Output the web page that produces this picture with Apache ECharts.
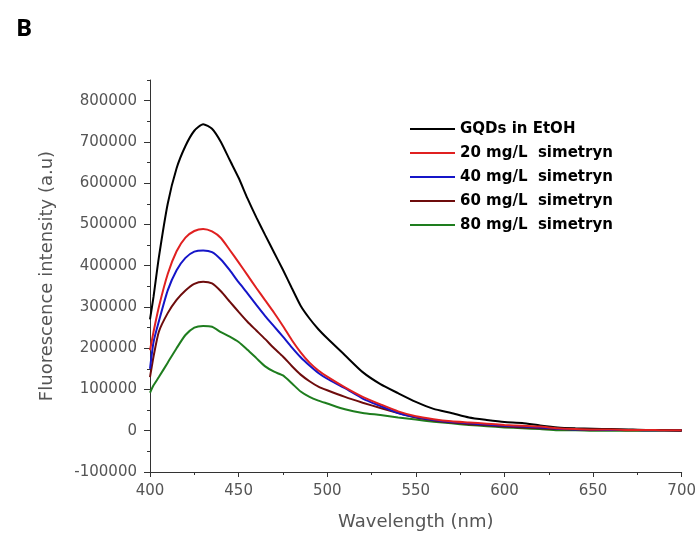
<!DOCTYPE html>
<html>
<head>
<meta charset="utf-8">
<script src="https://cdn.jsdelivr.net/npm/echarts@6/dist/echarts.min.js"></script>
<style>
html,body{margin:0;padding:0;background:#fff;}
#c{width:699px;height:541px;}
</style>
</head>
<body>
<div id="c"></div>
<script>
var wavelengths = [400,402,405,410,415,420,425,430,435,440,445,450,455,460,465,470,475,480,485,490,495,500,510,520,530,540,550,560,570,580,590,600,610,620,630,640,650,660,670,680,690,700];
var gqdEtOH = [270000,325000,420000,550000,636000,690000,727000,743000,732000,700000,656000,613000,563000,517000,474000,432000,390000,346000,303000,272000,246000,224000,183000,142000,113000,91000,70000,53000,43000,32000,26000,21000,19000,13000,8000,6000,5000,4000,3000,2000,2000,1000];
var sim20 = [195000,240000,300000,380000,435000,468000,484000,489000,483000,467000,438000,408000,377000,346000,316000,286000,254000,220000,190000,165000,146000,131000,105000,82000,64000,47000,35000,28000,23000,20000,17000,14000,12000,10000,6000,4000,3000,3000,2000,2000,1000,1000];
var sim40 = [150000,215000,265000,340000,389000,419000,434000,437000,433000,415000,389000,360000,333000,305000,278000,253000,228000,202000,178000,158000,140000,126000,103000,78000,60000,43000,33000,26000,21000,18000,15000,12000,10000,8000,5000,3000,3000,2000,2000,1000,1000,1000];
var sim60 = [130000,180000,240000,285000,317000,340000,356000,361000,357000,338000,313000,288000,264000,243000,222000,200000,180000,157000,136000,120000,107000,98000,82000,68000,55000,43000,32000,25000,20000,16000,13000,10000,8000,6000,4000,3000,2000,2000,1000,1000,1000,0];
var sim80 = [92000,110000,130000,165000,200000,232000,250000,254000,252000,239000,228000,215000,196000,176000,156000,143000,134000,115000,95000,82000,73000,66000,52000,43000,38000,32000,27000,22000,18000,14000,11000,8000,6000,4000,1000,1000,0,0,0,0,0,0];
var seriesNames = ['GQDs in EtOH','20 mg/L  simetryn','40 mg/L  simetryn','60 mg/L  simetryn','80 mg/L  simetryn'];
var yTicks = [-100000,0,100000,200000,300000,400000,500000,600000,700000,800000];

function pairs(vals){ return wavelengths.map(function(w,i){ return [w, vals[i]]; }); }

var chart = echarts.init(document.getElementById('c'), null, {renderer:'canvas'});
var axisColor = '#333';
var labelFont = {fontFamily:'DejaVu Sans', fontSize:15, color:'#555'};
function line(name, data, color, z){
  return {name:name, type:'line', data:pairs(data), showSymbol:false, symbol:'none', smooth:0.2,
    lineStyle:{color:color, width:2}, itemStyle:{color:color}, z:z, animation:false};
}
chart.setOption({
  animation:false,
  title:{text:'B', left:11, top:12, textStyle:{fontFamily:'Open Sans', fontWeight:'bold', fontSize:24, color:'#000'}},
  grid:{left:150, right:15, top:80, bottom:69, containLabel:false},
  legend:{
    orient:'vertical', left:410, top:120, padding:0, itemWidth:45, itemHeight:2, itemGap:6, icon:'rect',
    data:seriesNames,
    textStyle:{fontFamily:'DejaVu Sans', fontWeight:'bold', fontSize:15, color:'#000', lineHeight:18}
  },
  xAxis:{
    type:'value', min:400, max:700, interval:50,
    name:'Wavelength (nm)', nameLocation:'middle', nameGap:41,
    nameTextStyle:{fontFamily:'DejaVu Sans', fontSize:18, color:'#555'},
    axisLine:{show:true, onZero:false, lineStyle:{color:axisColor, width:1}},
    axisTick:{show:true, length:5, lineStyle:{color:axisColor}},
    minorTick:{show:true, splitNumber:2, length:3, lineStyle:{color:axisColor}},
    axisLabel:Object.assign({margin:12}, labelFont),
    splitLine:{show:false}
  },
  yAxis:[{
    type:'value', min:-100000, max:850000, interval:50000,
    name:'Fluorescence intensity (a.u)', nameLocation:'middle', nameGap:94,
    nameTextStyle:{fontFamily:'DejaVu Sans', fontSize:18, color:'#555'},
    axisLine:{show:true, onZero:false, lineStyle:{color:axisColor, width:1}},
    axisTick:{show:true, length:3, lineStyle:{color:axisColor}},
    axisLabel:Object.assign({margin:13, formatter:function(v){ return (v % 100000 === 0 && v <= 800000) ? String(v) : ''; }}, labelFont),
    splitLine:{show:false}
  },{
    type:'value', min:-100000, max:850000, interval:50000, position:'left',
    axisLine:{show:false},
    axisTick:{show:true, length:6, customValues:yTicks, lineStyle:{color:axisColor}},
    axisLabel:{show:false},
    splitLine:{show:false}
  }],
  series:[
    line(seriesNames[0], gqdEtOH, '#000000', 5),
    line(seriesNames[4], sim80, '#1e7d1e', 2),
    line(seriesNames[3], sim60, '#6e0c0c', 3),
    line(seriesNames[2], sim40, '#1515c8', 4),
    line(seriesNames[1], sim20, '#e02020', 6)
  ]
});
</script>
</body>
</html>
